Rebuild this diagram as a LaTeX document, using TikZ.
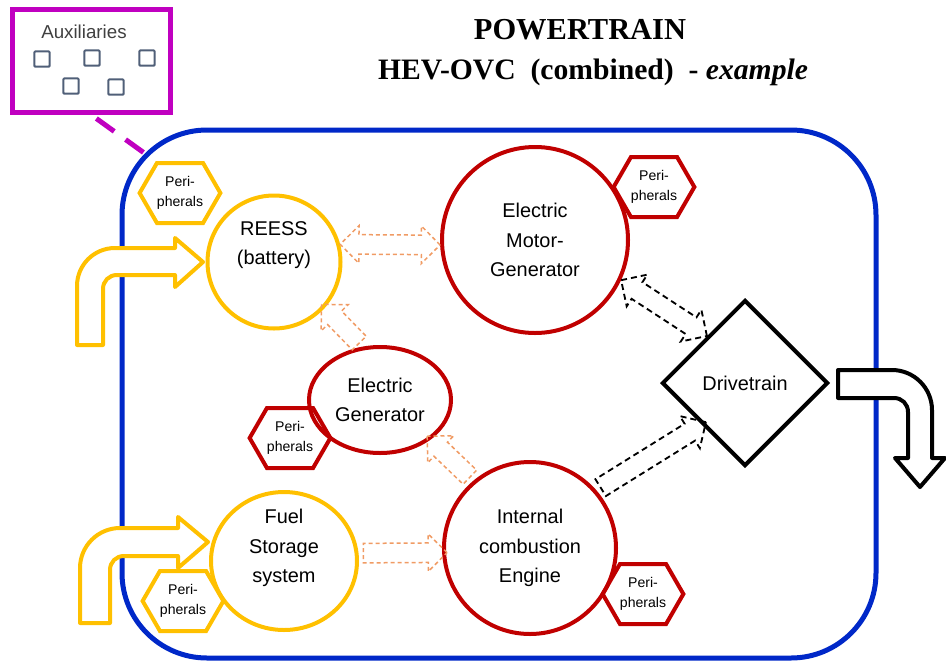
\documentclass[tikz,border=0pt]{standalone}
\usepackage{fontspec}
\setmainfont{Liberation Serif}
\setsansfont{Liberation Sans}
\usepackage{tikz}
\usetikzlibrary{calc, positioning, shapes.geometric, shapes.symbols, shapes.arrows}

\definecolor{ptblue}{RGB}{0,40,200}
\definecolor{ptyellow}{RGB}{255,192,0}
\definecolor{ptred}{RGB}{192,0,0}
\definecolor{ptmagenta}{RGB}{192,0,192}
\definecolor{ptorange}{RGB}{240,155,100}
\definecolor{auxgray}{RGB}{80,95,120}

\begin{document}
\begin{tikzpicture}[x=0.3mm, y=-0.3mm,
    every node/.style={inner sep=0pt, align=center, font=\sffamily\fontsize{17}{25}\selectfont},
    yellowunit/.style={circle, draw=ptyellow, line width=1.2mm},
    redunit/.style={circle, draw=ptred, line width=1.2mm},
    periph/.style={signal, signal to=east and west, signal pointer angle=120, draw=#1, line width=1.2mm,
        minimum width=22.8mm, minimum height=18mm, font=\sffamily\fontsize{12}{17}\selectfont},
    eone/.style={single arrow, draw=ptorange, line width=0.45mm, dash pattern=on 1.2mm off 0.9mm,
        inner ysep=2.7mm, single arrow head extend=2.7mm},
    eboth/.style={double arrow, draw=ptorange, line width=0.45mm, dash pattern=on 1.2mm off 0.9mm,
        inner ysep=2.7mm, double arrow head extend=2.7mm},
    mone/.style={single arrow, draw=black, line width=0.55mm, dash pattern=on 1.8mm off 1.2mm,
        inner ysep=2.7mm, single arrow head extend=2.7mm},
    mboth/.style={double arrow, draw=black, line width=0.55mm, dash pattern=on 1.8mm off 1.2mm,
        inner ysep=2.7mm, double arrow head extend=2.7mm},
    inflow/.style={draw=ptyellow, fill=white, line width=1.2mm, line join=round},
    outflow/.style={draw=black, fill=white, line width=1.2mm, line join=round}]
    \useasboundingbox (0,0) rectangle (946,664);

    % Title
    \node[font=\rmfamily\bfseries\fontsize{26}{30}\selectfont] (title) at (580,30) {POWERTRAIN};
    \node[font=\rmfamily\bfseries\fontsize{25.3}{30}\selectfont] (subtitle) at (593,72)
        {HEV-OVC\ \ (combined)\ \ - \textit{example}};

    % Auxiliaries
    \node[draw=ptmagenta, line width=1.5mm, minimum width=47.4mm, minimum height=30.9mm] (aux) at (91.5,61) {};
    \node[font=\sffamily\fontsize{16}{18}\selectfont, text=black!75] (auxname) at (84,32) {Auxiliaries};
    \foreach \i/\x/\y in {1/42/59, 2/92/58, 3/147/58, 4/71/86, 5/116/87} {
        \node[draw=auxgray, line width=0.6mm, minimum size=4.6mm, rounded corners=0.3mm] (item\i) at (\x,\y) {};
    }

    % Powertrain boundary
    \draw[ptblue, line width=1.5mm, rounded corners=25.5mm] (122,130) rectangle (876,658);
    \coordinate (ptcorner) at (147,155);
    \draw[ptmagenta, line width=1.5mm, dash pattern=on 6.6mm off 4.2mm, shorten <=1.8mm] (aux.south) -- (ptcorner);

    % Energy and fuel in, power out
    \draw[inflow] (77,345) -- (77,286) .. controls (77,265) and (94,248) .. (115,248) -- (175,248) -- (175,238)
        -- (203,262) -- (175,287) -- (175,275) -- (117,275) .. controls (109,275) and (103,281) .. (103,289)
        -- (103,345) -- cycle;
    \draw[inflow] (80,623) -- (80,568) .. controls (80,546) and (98,528) .. (120,528) -- (178,528) -- (178,517)
        -- (208,542) -- (178,568) -- (178,556) -- (124,556) .. controls (116,556) and (110,562) .. (110,570)
        -- (110,623) -- cycle;
    \draw[outflow] (838,370) -- (892,370) .. controls (914,370) and (932,388) .. (932,410) -- (932,458)
        -- (945,458) -- (920,487) -- (895,458) -- (908,458) -- (908,412) .. controls (908,404) and (902,398) .. (894,398)
        -- (838,398) -- cycle;

    % Units
    \node[yellowunit, minimum size=39.9mm, label={[yshift=5mm]center:REESS\\(battery)}] (reess) at (274,262) {};
    \node[redunit, minimum size=55.8mm] (motor) at (535,240) {Electric\\Motor-\\Generator};
    \node[redunit, ellipse, minimum width=42.6mm, minimum height=31.8mm] (gen) at (380,400) {Electric\\Generator};
    \node[yellowunit, ellipse, minimum width=43.8mm, minimum height=41.4mm,
        label={[yshift=3.9mm]center:Fuel\\Storage\\system}] (fuel) at (284,561) {};
    \node[redunit, minimum size=51.6mm] (ice) at (530,548) {Internal\\combustion\\Engine};
    \node[diamond, draw=black, line width=1.2mm, aspect=1, minimum width=49.8mm, minimum height=49.8mm] (drive) at (745,383) {Drivetrain};

    % Peripherals
    \node[periph=ptyellow] (perreess) at (180,193) {Peri-\\pherals};
    \node[periph=ptred] (permotor) at (654,187) {Peri-\\pherals};
    \node[periph=ptred] (pergen) at (290,438) {Peri-\\pherals};
    \node[periph=ptyellow] (perfuel) at (183,601) {Peri-\\pherals};
    \node[periph=ptred] (perice) at (643,594) {Peri-\\pherals};

    % Power flows
    \foreach \a/\b/\s in {reess.15/motor.183/eboth, gen.108/reess.-42/eone, ice.130/gen.-38/eone,
        fuel.6/ice.183/eone, motor.-25/drive.129/mboth, ice.41/drive.224/mone} {
        \path let \p1=($(\b)-(\a)$) in (\a) -- (\b)
            node[midway, sloped, allow upside down, \s, minimum height={veclen(\x1,\y1)}] {};
    }
\end{tikzpicture}
\end{document}
